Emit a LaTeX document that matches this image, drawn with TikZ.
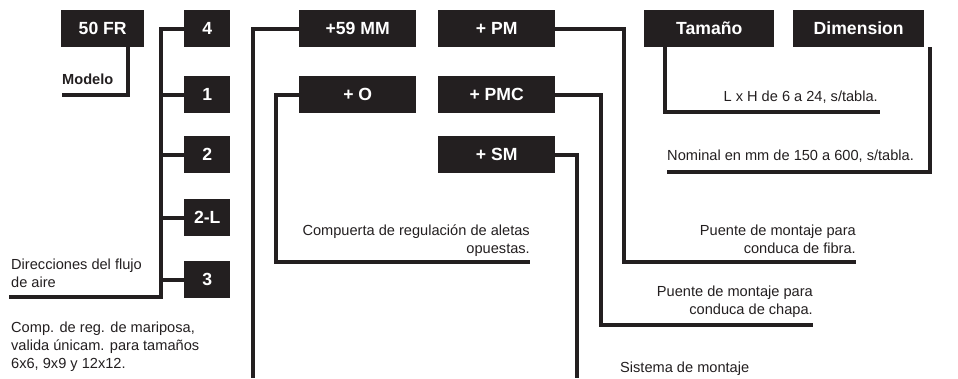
\documentclass[tikz,border=0pt]{standalone}
\usepackage{fontspec}
\setmainfont{Liberation Sans}
\definecolor{ink}{HTML}{231F20}
\begin{document}
\begin{tikzpicture}[x=1pt,y=-1pt,
  box/.style={fill=ink, text=white, font=\bfseries\fontsize{17.6}{20}\selectfont,
    inner sep=0pt, text height=12.4pt, text depth=0pt, anchor=north west, minimum height=37pt},
  conn/.style={draw=ink, line width=3.6pt, line join=miter},
  lbl/.style={font=\fontsize{14.6}{17.5}\selectfont, inner sep=0pt, text=ink}]
\useasboundingbox (0,0) rectangle (958,378);
% boxes
\node[box, minimum width=83pt] (fr) at (61,10) {50 FR};
\node[box, minimum width=46pt] (b4) at (184,10) {4};
\node[box, minimum width=46pt] (b1) at (184,76) {1};
\node[box, minimum width=46pt] (b2) at (184,136) {2};
\node[box, minimum width=46pt] (b2l) at (184,199) {2-L};
\node[box, minimum width=46pt] (b3) at (184,261) {3};
\node[box, minimum width=117pt] (mm) at (299,10) {+59 MM};
\node[box, minimum width=117pt] (o) at (299,76) {+ O};
\node[box, minimum width=117pt] (pm) at (438,10) {+ PM};
\node[box, minimum width=117pt] (pmc) at (438,76) {+ PMC};
\node[box, minimum width=117pt] (sm) at (438,136) {+ SM};
\node[box, minimum width=130pt] (tam) at (644,10) {Tamaño};
\node[box, minimum width=131pt] (dim) at (793,10) {Dimension};
% labels
\node[lbl, font=\bfseries\fontsize{14.6}{17.5}\selectfont, anchor=base west] (mod) at (62,84) {Modelo};
\node[lbl, align=left, anchor=base west] (dir) at (11,287) {Direcciones del flujo\\de aire};
\node[lbl, align=left, anchor=base west, font=\fontsize{14.6}{18}\selectfont] (mar) at (11,368.5) {Comp. de reg. de mariposa,\\valida únicam. para tamaños\\6x6, 9x9 y 12x12.};
\node[lbl, align=right, anchor=base east] (comp) at (530,253) {Compuerta de regulación de aletas\\opuestas.};
\node[lbl, align=right, anchor=base east] (fib) at (856,253) {Puente de montaje para\\conduca de fibra.};
\node[lbl, align=right, anchor=base east] (cha) at (813,314) {Puente de montaje para\\conduca de chapa.};
\node[lbl, anchor=base west] (sis) at (620,372) {Sistema de montaje};
\node[lbl, anchor=base east] (lxh) at (878,101.7) {L x H de 6 a 24, s/tabla.};
\node[lbl, anchor=base west] (nom) at (667,160) {Nominal en mm de 150 a 600, s/tabla.};
% coordinates
\coordinate (mC) at (128,95);
\coordinate (mE) at (62,95);
\coordinate (busx) at (161,0);
\coordinate (dE) at (9,297);
\coordinate (mmE) at (253,378);
\coordinate (oC) at (276,262);
\coordinate (oE) at (530,262);
\coordinate (pmC) at (624,262);
\coordinate (pmE) at (856,262);
\coordinate (pmcC) at (601,325);
\coordinate (pmcE) at (813,325);
\coordinate (smE) at (577,378);
\coordinate (tC) at (665,112);
\coordinate (tE) at (880,112);
\coordinate (dC) at (930,172);
\coordinate (dEnd) at (667,172);
% connectors
\draw[conn] (fr.south -| mC) -- (mC) -- (mE);
\draw[conn] (b4.west) -- (b4.west -| busx) |- (dE);
\draw[conn] (b1.west) -- (b1.west -| busx);
\draw[conn] (b2.west) -- (b2.west -| busx);
\draw[conn] (b2l.west) -- (b2l.west -| busx);
\draw[conn] (b3.west) -- (b3.west -| busx);
\draw[conn] (mm.west) -| (mmE);
\draw[conn] (o.west) -| (oC) -- (oE);
\draw[conn] (pm.east) -| (pmC) -- (pmE);
\draw[conn] (pmc.east) -| (pmcC) -- (pmcE);
\draw[conn] (sm.east) -| (smE);
\draw[conn] (tam.south -| tC) -- (tC) -- (tE);
\draw[conn] (dim.south -| dC) -- (dC) -- (dEnd);
\end{tikzpicture}
\end{document}
